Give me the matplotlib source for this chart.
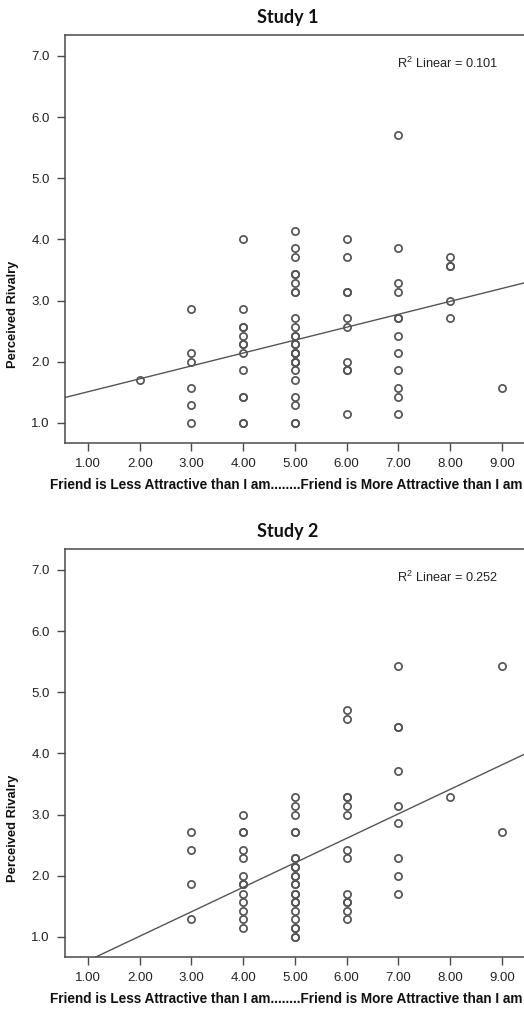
import matplotlib
matplotlib.use("Agg")

import matplotlib.pyplot as plt
import numpy as np

plt.rcParams["font.family"] = ["Liberation Sans", "DejaVu Sans"]
plt.rcParams["mathtext.fontset"] = "custom"
plt.rcParams["mathtext.rm"] = "Liberation Sans"

# ---------- DATA ----------
titles = ["Study 1", "Study 2"]
r2_labels = ["0.101", "0.252"]
xticks = [1, 2, 3, 4, 5, 6, 7, 8, 9]
yticks = [1, 2, 3, 4, 5, 6, 7]
xlabel = "Friend is Less Attractive than I am........Friend is More Attractive than I am"
ylabel = "Perceived Rivalry"

s1_x = ([2] + [3] * 6 + [4] * 13 + [5] * 26 + [6] * 10 + [7] * 12 + [8] * 5 + [9])
s1_y = ([1.71] +
        [2.86, 2.14, 2.00, 1.57, 1.29, 1.00] +
        [4.00, 2.86, 2.57, 2.57, 2.43, 2.29, 2.29, 2.14, 1.86, 1.43, 1.43, 1.00, 1.00] +
        [4.14, 3.86, 3.71, 3.43, 3.43, 3.29, 3.14, 3.14, 2.71, 2.57, 2.43, 2.43,
         2.29, 2.29, 2.14, 2.14, 2.00, 2.00, 1.86, 1.71, 1.43, 1.29, 1.00, 1.00,
         2.14, 2.00] +
        [4.00, 3.71, 3.14, 3.14, 2.71, 2.57, 2.00, 1.86, 1.86, 1.14] +
        [5.71, 3.86, 3.29, 3.14, 2.71, 2.71, 2.43, 2.14, 1.86, 1.57, 1.43, 1.14] +
        [3.71, 3.57, 3.57, 3.00, 2.71] +
        [1.57])

s2_x = ([3] * 4 + [4] * 13 + [5] * 23 + [6] * 13 + [7] * 9 + [8] + [9] * 2)
s2_y = ([2.71, 2.43, 1.86, 1.29] +
        [3.00, 2.71, 2.71, 2.43, 2.29, 2.00, 1.86, 1.86, 1.71, 1.57, 1.43, 1.29, 1.14] +
        [3.29, 3.14, 3.00, 2.71, 2.71, 2.29, 2.29, 2.14, 2.14, 2.00, 2.00, 1.86,
         1.86, 1.71, 1.71, 1.57, 1.57, 1.43, 1.29, 1.14, 1.14, 1.00, 1.00] +
        [4.71, 4.57, 3.29, 3.29, 3.14, 3.00, 2.43, 2.29, 1.71, 1.57, 1.57, 1.43, 1.29] +
        [5.43, 4.43, 4.43, 3.71, 3.14, 2.86, 2.29, 2.00, 1.71] +
        [3.29] +
        [5.43, 2.71])

# fit lines: intercept, slope
fit_intercepts = [1.30, 0.213]
fit_slopes = [0.211, 0.40]

# ---------- PLOT ----------
W, H = 524, 1011
fig = plt.figure(figsize=(W / 100, H / 100), dpi=100)

ax_tops = [35, 549]      # pixel rows of top spine
ax_height = 408
ax_left = 65
gray = "#4a4a4a"

for i in range(2):
    top = ax_tops[i]
    ax = fig.add_axes([ax_left / W, 1 - (top + ax_height) / H,
                       (W - ax_left) / W + 0.002, ax_height / H])
    xs = s1_x if i == 0 else s2_x
    ys = s1_y if i == 0 else s2_y

    ax.plot(xs, ys, "o", ms=5.2, mfc="none", mec="#555555", mew=1.25, ls="none")

    xl = np.array([0.55, 9.5])
    ax.plot(xl, fit_intercepts[i] + fit_slopes[i] * xl, color="#555555", lw=1.0)

    ax.set_xlim(0.555, 9.45)
    ax.set_ylim(0.673, 7.343)
    ax.set_xticks(xticks)
    ax.set_xticklabels([f"{v:.2f}" for v in xticks])
    ax.set_yticks(yticks)
    ax.set_yticklabels([f"{v:.1f}" for v in yticks])
    ax.tick_params(direction="out", length=6, width=1.0, color=gray,
                   labelsize=9.5, labelcolor="#222222", pad=5)
    for side in ["left", "bottom", "top"]:
        ax.spines[side].set_color(gray)
        ax.spines[side].set_linewidth(1.1)
    ax.spines["right"].set_visible(False)

    fig.text(397 / W, 1 - (top + 28) / H,
             r"$\mathregular{R^2}$ Linear = " + r2_labels[i],
             fontsize=9.2, color="#222222", va="center")

    fig.text(288 / W, 1 - (top - 18) / H, titles[i], ha="center", va="center",
             fontsize=13, fontweight="bold", family=["Lato", "DejaVu Sans"],
             color="#111111")
    fig.text(13 / W, 1 - (top + 279) / H, ylabel, rotation=90, ha="center",
             va="center", fontsize=9.3, fontweight="bold", color="#111111")
    fig.text(286 / W, 1 - (top + 450) / H, xlabel, ha="center", va="center",
             fontsize=9.8, fontweight="bold", color="#111111")

fig.savefig("out.png", dpi=100)
